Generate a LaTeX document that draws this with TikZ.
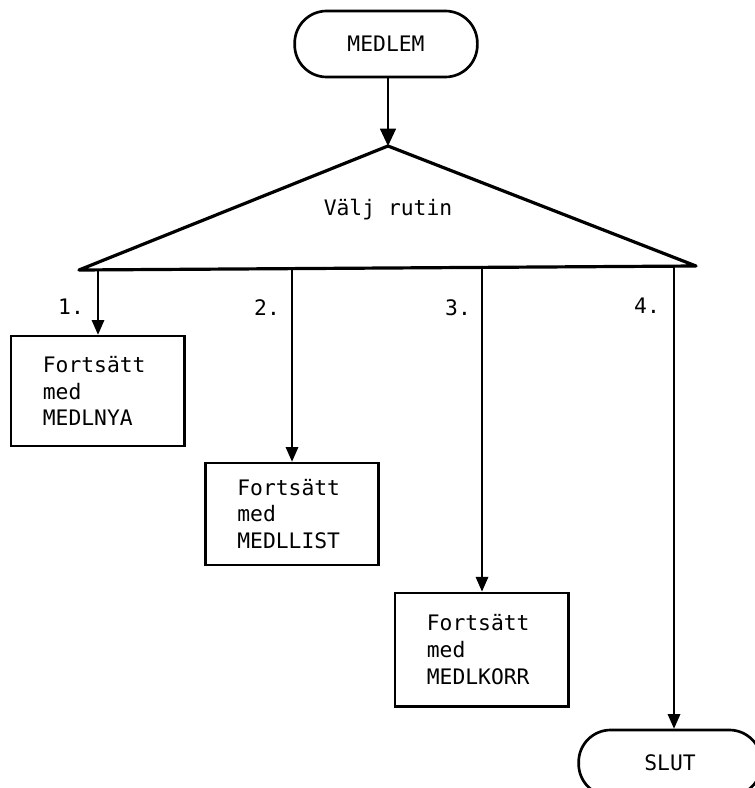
\documentclass[tikz,border=0pt]{standalone}
\usepackage{fontspec}
\newfontfamily\flowfont{DejaVu Sans Mono}
\usetikzlibrary{arrows.meta}
\begin{document}
\begin{tikzpicture}[x=0.75pt,y=-0.75pt,
  font=\flowfont\fontsize{16}{20}\selectfont,
  terminal/.style={draw, line width=2pt, rounded corners=24pt,
    minimum width=137pt, minimum height=49.5pt, inner sep=0pt},
  stepbox/.style={draw, line width=2pt, minimum width=130pt,
    text width=82pt, inner xsep=24pt, inner ysep=0pt, align=left},
  decision/.style={line width=2.4pt, line join=round},
  flow/.style={line width=0.9pt, -{Triangle[length=11pt,width=9.5pt]}},
  label/.style={inner sep=0pt}]

\useasboundingbox (0,0) rectangle (755,788);

% start terminal
\node[terminal] (start) at (386,44) {MEDLEM};

% decision triangle
\coordinate (apex) at (388,146);
\coordinate (cornerL) at (79,270);
\coordinate (cornerR) at (696,266);
\draw[decision] (cornerL) -- (apex) -- (cornerR) -- cycle;
\node (choice) at (388,210) {Välj rutin};

\draw[flow, -{Triangle[length=13pt,width=12pt]}] (apex |- start.south) -- (apex);

% exits on the base of the triangle
\coordinate (b1) at (98,269.9);
\coordinate (b2) at (292,268.6);
\coordinate (b3) at (482,267.4);
\coordinate (b4) at (674,266.1);

% targets
\node[stepbox, minimum height=82.5pt] (nya) at (97.5,391) {Fortsätt\\med\\MEDLNYA};
\node[stepbox, minimum height=76.5pt] (list) at (292,514) {Fortsätt\\med\\MEDLLIST};
\node[stepbox, minimum height=85pt] (korr) at (481.5,649.5) {Fortsätt\\med\\MEDLKORR};
\node[terminal] (stop) at (670,763) {SLUT};

% branch numbers
\node[label] (n1) at (71,307) {1.};
\node[label] (n2) at (267,308) {2.};
\node[label] (n3) at (458,308) {3.};
\node[label] (n4) at (647,306) {4.};

% branches
\draw[flow] (b1) -- (b1 |- nya.north);
\draw[flow] (b2) -- (b2 |- list.north);
\draw[flow] (b3) -- (b3 |- korr.north);
\draw[flow] (b4) -- (b4 |- stop.north);
\end{tikzpicture}
\end{document}
